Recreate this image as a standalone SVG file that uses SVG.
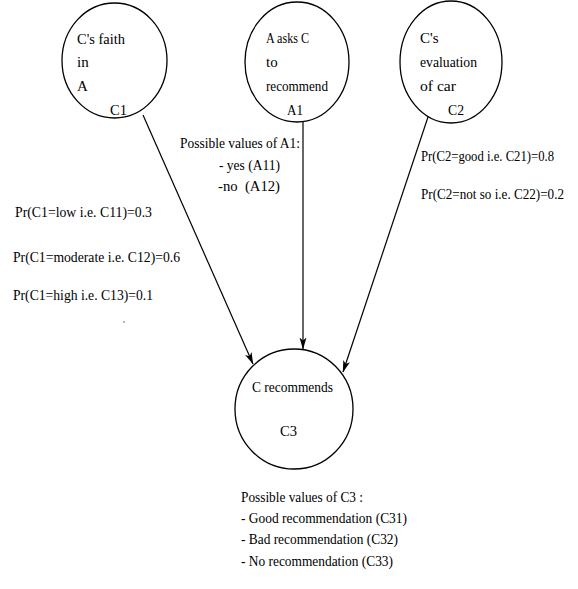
<svg xmlns="http://www.w3.org/2000/svg" width="578" height="589" viewBox="0 0 578 589">
<style>
text{font-family:"Liberation Serif","Times New Roman",serif;font-size:15px;fill:#000}
.node{fill:#fff;stroke:#000;stroke-width:1.3}
.edge{stroke:#000;stroke-width:1.2;fill:none}
</style>
<defs>
<marker id="arr" viewBox="0 0 12 8" refX="11.5" refY="4" markerWidth="12" markerHeight="8" markerUnits="userSpaceOnUse" orient="auto">
<path d="M0,0.5 L12,4 L0,7.5 L3,4 z" fill="#000"/>
</marker>
</defs>
<rect width="578" height="589" fill="#fff"/>
<g id="connectors">
<line class="edge" x1="143" y1="115" x2="253" y2="364" marker-end="url(#arr)"/>
<line class="edge" x1="303" y1="122" x2="303" y2="349" marker-end="url(#arr)"/>
<line class="edge" x1="428" y1="117" x2="343" y2="372" marker-end="url(#arr)"/>
</g>
<g id="C1">
<ellipse class="node" cx="114.5" cy="60.5" rx="52.5" ry="57.5"/>
<text x="77" y="44" textLength="48" lengthAdjust="spacingAndGlyphs">C's faith</text>
<text x="77" y="67">in</text>
<text x="77" y="91">A</text>
<text x="110" y="115" textLength="17" lengthAdjust="spacingAndGlyphs">C1</text>
</g>
<g id="A1">
<ellipse class="node" cx="297" cy="62" rx="52" ry="60"/>
<text x="266" y="43" textLength="43" lengthAdjust="spacingAndGlyphs">A asks C</text>
<text x="266" y="67">to</text>
<text x="266" y="91" textLength="62" lengthAdjust="spacingAndGlyphs">recommend</text>
<text x="287" y="115" textLength="16" lengthAdjust="spacingAndGlyphs">A1</text>
</g>
<g id="C2">
<ellipse class="node" cx="451" cy="62" rx="51" ry="61"/>
<text x="420" y="43">C's</text>
<text x="420" y="67" textLength="57" lengthAdjust="spacingAndGlyphs">evaluation</text>
<text x="420" y="91" textLength="36" lengthAdjust="spacingAndGlyphs">of car</text>
<text x="448" y="115" textLength="16" lengthAdjust="spacingAndGlyphs">C2</text>
</g>
<g id="C3">
<ellipse class="node" cx="294" cy="409" rx="59" ry="60"/>
<text x="252" y="392" textLength="81" lengthAdjust="spacingAndGlyphs">C recommends</text>
<text x="280" y="436" textLength="17" lengthAdjust="spacingAndGlyphs">C3</text>
</g>
<g id="labels">
<text x="180" y="148" textLength="120" lengthAdjust="spacingAndGlyphs">Possible values of A1:</text>
<text x="219" y="170" textLength="61" lengthAdjust="spacingAndGlyphs">- yes (A11)</text>
<text x="218" y="191" textLength="62" lengthAdjust="spacingAndGlyphs" xml:space="preserve">-no  (A12)</text>
<text x="15" y="217" textLength="137" lengthAdjust="spacingAndGlyphs">Pr(C1=low i.e. C11)=0.3</text>
<text x="13" y="262" textLength="167" lengthAdjust="spacingAndGlyphs">Pr(C1=moderate i.e. C12)=0.6</text>
<text x="13" y="300" textLength="140" lengthAdjust="spacingAndGlyphs">Pr(C1=high i.e. C13)=0.1</text>
<text x="421" y="161" textLength="133" lengthAdjust="spacingAndGlyphs">Pr(C2=good i.e. C21)=0.8</text>
<text x="421" y="199" style="font-size:14px" textLength="143" lengthAdjust="spacingAndGlyphs">Pr(C2=not so i.e. C22)=0.2</text>
<text x="241" y="502" textLength="122" lengthAdjust="spacingAndGlyphs">Possible values of C3 :</text>
<text x="241" y="523" textLength="166" lengthAdjust="spacingAndGlyphs">- Good recommendation (C31)</text>
<text x="241" y="544" textLength="157" lengthAdjust="spacingAndGlyphs">- Bad recommendation (C32)</text>
<text x="241" y="566" textLength="152" lengthAdjust="spacingAndGlyphs">- No recommendation (C33)</text>
<circle cx="124" cy="322" r="0.8" fill="#555"/>
</g>
</svg>
